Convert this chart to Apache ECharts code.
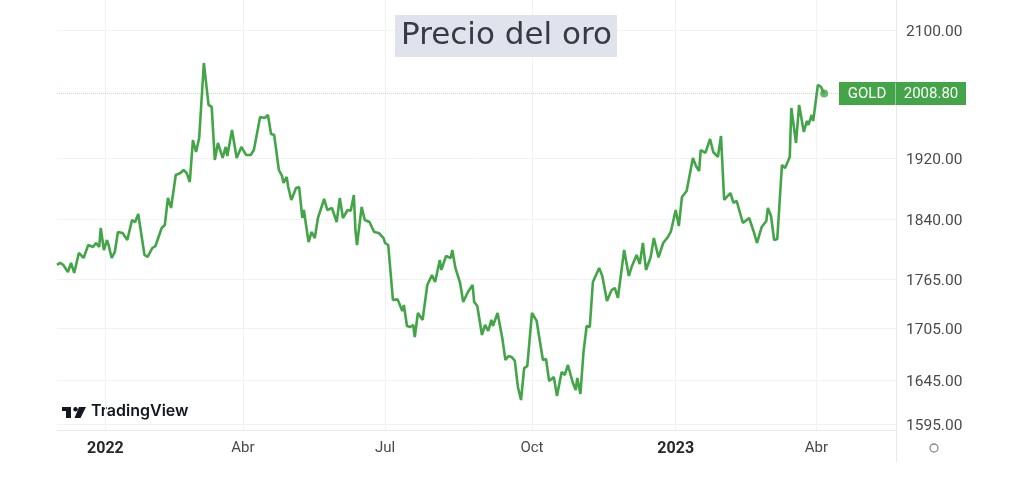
<!DOCTYPE html>
<html>
<head>
<meta charset="utf-8">
<script src="https://cdn.jsdelivr.net/npm/echarts@6/dist/echarts.min.js"></script>
<style>html,body{margin:0;padding:0;background:#fff}#c{width:1023px;height:492px}</style>
</head>
<body>
<div id="c"></div>
<script>
const dates = [
'2021-12-03','2021-12-05','2021-12-07','2021-12-10','2021-12-12','2021-12-14','2021-12-17','2021-12-20','2021-12-23','2021-12-26',
'2021-12-28','2021-12-30','2021-12-31','2022-01-02','2022-01-04','2022-01-05','2022-01-07','2022-01-09','2022-01-11','2022-01-14',
'2022-01-17','2022-01-20','2022-01-22','2022-01-24','2022-01-28','2022-01-30','2022-02-02','2022-02-04','2022-02-08','2022-02-10',
'2022-02-12','2022-02-14','2022-02-17','2022-02-20','2022-02-22','2022-02-24','2022-02-26','2022-02-28','2022-03-02','2022-03-04',
'2022-03-07','2022-03-10','2022-03-12','2022-03-14','2022-03-16','2022-03-19','2022-03-21','2022-03-22','2022-03-25','2022-03-26',
'2022-03-28','2022-03-31','2022-04-03','2022-04-06','2022-04-08','2022-04-12','2022-04-15','2022-04-17','2022-04-19','2022-04-21',
'2022-04-24','2022-04-26','2022-04-27','2022-04-29','2022-04-30','2022-05-02','2022-05-05','2022-05-07','2022-05-09','2022-05-10',
'2022-05-13','2022-05-15','2022-05-17','2022-05-19','2022-05-23','2022-05-25','2022-05-28','2022-05-31','2022-06-02','2022-06-04',
'2022-06-07','2022-06-09','2022-06-11','2022-06-12','2022-06-13','2022-06-16','2022-06-18','2022-06-21','2022-06-24','2022-06-27',
'2022-06-30','2022-07-01','2022-07-03','2022-07-06','2022-07-09','2022-07-12','2022-07-13','2022-07-15','2022-07-17','2022-07-19',
'2022-07-20','2022-07-22','2022-07-25','2022-07-28','2022-07-31','2022-08-02','2022-08-05','2022-08-06','2022-08-09','2022-08-12',
'2022-08-13','2022-08-15','2022-08-18','2022-08-20','2022-08-23','2022-08-26','2022-08-27','2022-08-29','2022-09-01','2022-09-03',
'2022-09-05','2022-09-07','2022-09-08','2022-09-11','2022-09-14','2022-09-16','2022-09-18','2022-09-20','2022-09-22','2022-09-24',
'2022-09-26','2022-09-28','2022-09-30','2022-10-03','2022-10-06','2022-10-10','2022-10-12','2022-10-14','2022-10-17','2022-10-19',
'2022-10-22','2022-10-24','2022-10-26','2022-10-29','2022-10-31','2022-11-01','2022-11-03','2022-11-05','2022-11-07','2022-11-09',
'2022-11-11','2022-11-13','2022-11-15','2022-11-17','2022-11-20','2022-11-23','2022-11-25','2022-11-27','2022-12-01','2022-12-04',
'2022-12-06','2022-12-09','2022-12-11','2022-12-13','2022-12-15','2022-12-18','2022-12-20','2022-12-23','2022-12-26','2022-12-29',
'2022-12-31','2023-01-03','2023-01-05','2023-01-07','2023-01-10','2023-01-14','2023-01-16','2023-01-18','2023-01-19','2023-01-22',
'2023-01-25','2023-01-27','2023-01-30','2023-02-01','2023-02-03','2023-02-07','2023-02-09','2023-02-11','2023-02-13','2023-02-15',
'2023-02-19','2023-02-22','2023-02-24','2023-02-27','2023-03-02','2023-03-03','2023-03-05','2023-03-07','2023-03-09','2023-03-12',
'2023-03-14','2023-03-17','2023-03-18','2023-03-21','2023-03-23','2023-03-26','2023-03-28','2023-03-29','2023-03-31','2023-04-01',
'2023-04-04','2023-04-06','2023-04-08'
];
const prices = [
1782.4,1784.9,1782.4,1773.7,1784.9,1772.5,1797.4,1791.1,1807.4,1804.9,
1809.9,1804.9,1829.0,1801.1,1813.7,1807.4,1791.1,1798.6,1823.9,1822.6,
1813.7,1839.2,1836.6,1846.9,1794.9,1792.4,1803.6,1806.1,1829.0,1832.8,
1867.7,1854.7,1897.9,1900.5,1904.5,1900.5,1888.7,1944.8,1928.6,1947.5,
2052.2,1993.0,1990.2,1917.9,1940.8,1920.6,1935.4,1923.3,1958.4,1955.7,
1920.6,1935.4,1924.6,1924.6,1931.3,1976.3,1975.0,1979.1,1953.0,1951.6,
1904.5,1896.6,1887.3,1895.3,1882.1,1865.1,1880.7,1881.9,1841.8,1852.1,
1811.2,1823.9,1816.2,1841.8,1866.4,1852.1,1854.7,1836.6,1867.7,1841.8,
1852.1,1851.2,1871.6,1826.4,1807.4,1856.0,1839.2,1836.6,1823.9,1822.6,
1816.2,1809.9,1807.4,1739.4,1740.1,1726.1,1733.3,1708.1,1706.9,1709.3,
1695.0,1723.7,1715.3,1757.7,1770.0,1761.3,1788.6,1776.2,1793.6,1791.1,
1801.1,1778.7,1760.1,1737.0,1749.1,1757.7,1737.0,1732.1,1697.4,1709.3,
1702.1,1715.3,1708.1,1723.7,1693.9,1668.0,1672.7,1671.5,1667.4,1636.9,
1622.1,1658.7,1661.0,1723.7,1714.1,1668.0,1669.2,1643.8,1648.4,1626.7,
1654.1,1650.7,1662.2,1642.6,1633.5,1647.2,1628.9,1677.4,1708.1,1706.9,
1761.3,1770.0,1778.7,1768.8,1738.2,1751.5,1754.0,1741.8,1801.1,1768.8,
1781.2,1794.9,1783.6,1809.9,1776.2,1792.4,1816.2,1791.8,1809.9,1817.5,
1825.1,1852.1,1831.5,1869.0,1876.8,1920.6,1909.9,1903.2,1931.3,1927.3,
1946.2,1928.6,1921.9,1950.2,1865.1,1874.2,1861.2,1863.8,1849.5,1835.4,
1841.8,1823.9,1809.9,1830.2,1837.9,1854.7,1844.4,1813.7,1814.9,1911.2,
1907.2,1921.9,1988.8,1940.8,1993.0,1955.7,1970.8,1965.3,1979.1,1970.8,
2021.0,2018.2,2008.8
];
const yTicks = [1595, 1645, 1705, 1765, 1840, 1920, 2100];
const xTicks = ['2022-01-03','2022-04-01','2022-07-01','2022-10-03','2023-01-03','2023-04-03'];
const monthNames = ['Ene','Feb','Mar','Abr','May','Jun','Jul','Ago','Sep','Oct','Nov','Dic'];
const xRange = ['2021-12-03', '2023-05-24'];
const yRange = [1588.5, 2144.4];
const symbolName = 'GOLD';
const titleText = 'Precio del oro';

const toTs = s => new Date(s + 'T00:00:00').getTime();
const green = '#43a548';
const lastIdx = prices.length - 1;
const lineData = dates.map((d, i) => [toTs(d), prices[i]]);
const xTickTs = xTicks.map(toTs);

const chart = echarts.init(document.getElementById('c'), null, {renderer: 'canvas'});
chart.setOption({
  animation: false,
  backgroundColor: '#ffffff',
  title: {
    text: titleText,
    left: 395, top: 15,
    padding: [4, 5, 4, 6],
    backgroundColor: '#e0e3eb',
    textStyle: {fontFamily: 'DejaVu Sans', fontSize: 31, fontWeight: 'normal', color: '#363a46', lineHeight: 34}
  },
  grid: {left: 57, right: 127, top: 0, bottom: 62, outerBoundsMode: 'none'},
  xAxis: {
    type: 'value',
    min: toTs(xRange[0]),
    max: toTs(xRange[1]),
    axisLine: {show: true, lineStyle: {color: '#e8e8ec', width: 1}},
    axisTick: {show: false, customValues: xTickTs},
    axisLabel: {
      customValues: xTickTs,
      margin: 11,
      fontSize: 15,
      fontFamily: 'Roboto',
      color: '#4a4a4a',
      hideOverlap: false,
      formatter: function (val) {
        const d = new Date(val);
        return d.getMonth() === 0 ? '{y|' + d.getFullYear() + '}' : monthNames[d.getMonth()];
      },
      rich: {y: {fontWeight: 'bold', color: '#26272b', fontSize: 16, fontFamily: 'Roboto'}}
    },
    splitLine: {show: true, lineStyle: {color: '#f1f2f5', width: 1}}
  },
  yAxis: {
    type: 'log',
    logBase: 10,
    position: 'right',
    min: yRange[0],
    max: yRange[1],
    axisLine: {show: true, lineStyle: {color: '#e8e8ec', width: 1}},
    axisTick: {show: false, customValues: yTicks},
    axisLabel: {
      customValues: yTicks,
      margin: 10,
      fontSize: 15.5,
      fontFamily: 'Roboto',
      color: '#4a4a4a',
      formatter: v => '{v|' + Number(v).toFixed(2) + '}',
      rich: {v: {fontSize: 15.5, fontFamily: 'Roboto', color: '#4a4a4a', padding: [4, 0, 0, 0]}}
    },
    splitLine: {show: true, lineStyle: {color: '#f1f2f5', width: 1}}
  },
  series: [
    {
      type: 'line',
      data: lineData,
      showSymbol: false,
      lineStyle: {color: green, width: 2.6},
      itemStyle: {color: green},
      z: 3,
      markLine: {
        silent: true,
        symbol: 'none',
        lineStyle: {color: 'rgba(67,165,72,0.35)', type: 'dotted', width: 1},
        label: {
          position: 'end',
          distance: -57,
          padding: [1, 0, 0, 0],
          backgroundColor: green,
          formatter: () => '{a|' + symbolName + '}{s|}{b|' + prices[lastIdx].toFixed(2) + '}',
          rich: {
            a: {width: 56, height: 22, lineHeight: 22, align: 'center', color: '#fff', fontSize: 15, fontFamily: 'Roboto'},
            s: {width: 1, height: 22, backgroundColor: 'rgba(255,255,255,0.45)'},
            b: {width: 70, height: 22, lineHeight: 22, align: 'center', color: '#fff', fontSize: 15, fontFamily: 'Roboto'}
          }
        },
        data: [{yAxis: prices[lastIdx]}]
      }
    },
    {
      type: 'scatter',
      data: [lineData[lastIdx]],
      symbol: 'circle',
      symbolSize: 8,
      itemStyle: {color: green},
      z: 4,
      silent: true
    }
  ],
  graphic: [
    {type: 'line', shape: {x1: 896.5, y1: 430, x2: 896.5, y2: 462}, style: {stroke: '#e8e8ec', lineWidth: 1}},
    {type: 'circle', shape: {cx: 934, cy: 448, r: 4}, style: {fill: 'none', stroke: '#8a8a8a', lineWidth: 1.3}},
    {type: 'rect', shape: {x: 62, y: 407, width: 9, height: 4}, style: {fill: '#131722'}},
    {type: 'rect', shape: {x: 66, y: 407, width: 5, height: 11}, style: {fill: '#131722'}},
    {type: 'circle', shape: {cx: 75.5, cy: 409.2, r: 2.2}, style: {fill: '#131722'}},
    {type: 'polygon', shape: {points: [[79, 407], [86, 407], [80.5, 418], [74.5, 418]]}, style: {fill: '#131722'}},
    {type: 'text', left: 91, top: 403, style: {text: 'TradingView', fontFamily: 'Inter', fontSize: 16, fontWeight: 600, fill: '#131722'}}
  ]
});
</script>
</body>
</html>
